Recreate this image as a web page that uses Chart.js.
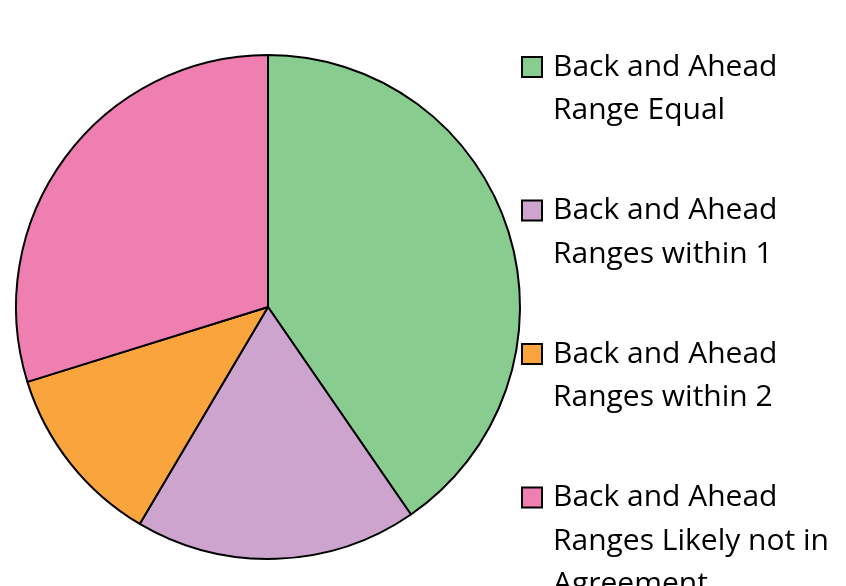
<!DOCTYPE html>
<html>
<head>
<meta charset="utf-8">
<script src="https://cdn.jsdelivr.net/npm/chart.js@4"></script>
<style>
  html, body { margin: 0; padding: 0; background: #fff; overflow: hidden; }
  #wrap { width: 846px; height: 586px; position: relative; }
</style>
</head>
<body>
<div id="wrap"><canvas id="rangeChart"></canvas></div>
<script>
// slice labels, each split into the lines shown in the legend
const categories = [
  ['Back and Ahead', 'Range Equal'],
  ['Back and Ahead', 'Ranges within 1'],
  ['Back and Ahead', 'Ranges within 2'],
  ['Back and Ahead', 'Ranges Likely not in', 'Agreement']
];
const shares = [40.4, 18.1, 11.7, 29.8];
const sliceColors = ['#88CD8F', '#CCA4CD', '#F9A43C', '#F07FB1'];

// legend drawn by hand so the labels can wrap like the original
const wrappedLegend = {
  id: 'wrappedLegend',
  afterDraw(chart) {
    const ctx = chart.ctx;
    const ds = chart.data.datasets[0];
    const left = 522, box = 20, textX = 553;
    const firstY = 67, step = 143.5, lineH = 43.5;
    ctx.save();
    ctx.font = '30px "Open Sans", sans-serif';
    ctx.textBaseline = 'middle';
    ctx.fillStyle = '#000';
    chart.data.labels.forEach((lines, i) => {
      const y = firstY + i * step;
      ctx.fillStyle = ds.backgroundColor[i];
      ctx.fillRect(left, y - box / 2, box, box);
      ctx.lineWidth = 2;
      ctx.strokeStyle = '#000';
      ctx.strokeRect(left, y - box / 2, box, box);
      ctx.fillStyle = '#000';
      lines.forEach((line, j) => {
        ctx.fillText(line, textX, y + j * lineH);
      });
    });
    ctx.restore();
  }
};

new Chart(document.getElementById('rangeChart'), {
  type: 'pie',
  data: {
    labels: categories,
    datasets: [{
      data: shares,
      backgroundColor: sliceColors,
      borderColor: '#000',
      borderWidth: 2
    }]
  },
  options: {
    responsive: true,
    maintainAspectRatio: false,
    animation: false,
    layout: {
      padding: { left: 15, top: 54, right: 325, bottom: 26 }
    },
    plugins: {
      legend: { display: false },
      tooltip: { enabled: false }
    }
  },
  plugins: [wrappedLegend]
});
</script>
</body>
</html>
